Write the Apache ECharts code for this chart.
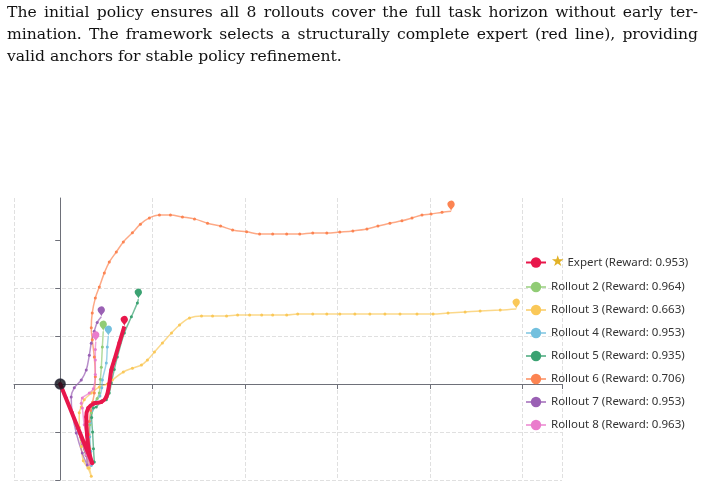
<!DOCTYPE html>
<html>
<head>
<meta charset="utf-8">
<script src="https://cdn.jsdelivr.net/npm/echarts@6/dist/echarts.min.js"></script>
<style>
  html, body { margin: 0; padding: 0; background: #fff; }
  #chart { position: absolute; left: 0; top: 0; width: 704px; height: 490px; }
  #caption {
    position: absolute; left: 7px; top: 1px; width: 691px;
    font-family: "DejaVu Serif", serif;
    font-size: 15.6px; line-height: 22px; color: #111; z-index: 2;
  }
  #caption .j { display: block; text-align: justify; text-align-last: justify; }
  #caption .l { display: block; text-align: left; }
</style>
</head>
<body>
<div id="chart"></div>
<div id="caption">
  <span class="j">The initial policy ensures all 8 rollouts cover the full task horizon without early ter-</span>
  <span class="j">mination. The framework selects a structurally complete expert (red line), providing</span>
  <span class="l">valid anchors for stable policy refinement.</span>
</div>
<script>
// names and rewards shown in the legend
var seriesNames = ["Expert", "Rollout 2", "Rollout 3", "Rollout 4", "Rollout 5", "Rollout 6", "Rollout 7", "Rollout 8"];
var rewards = [0.953, 0.964, 0.663, 0.953, 0.935, 0.706, 0.953, 0.963];

// shared start of every trajectory
var startPoint = [0, 0];
var descent = [[0, 0], [0.065, -0.29], [0.13, -0.6], [0.184, -0.92], [0.239, -1.23], [0.282, -1.48]];

var expert = [[0, 0], [0.347, -1.65], [0.315, -1.44], [0.29, -1.05], [0.282, -0.69], [0.304, -0.5], [0.369, -0.4],
  [0.445, -0.375], [0.499, -0.27], [0.531, 0], [0.553, 0.29], [0.586, 0.5], [0.64, 0.854], [0.694, 1.2]];

var rollout2 = [[0.336, -1.67], [0.325, -1.4], [0.315, -1.1], [0.32, -0.85], [0.336, -0.6], [0.36, -0.42],
  [0.4, -0.3], [0.423, -0.19], [0.435, 0.1], [0.445, 0.35], [0.456, 0.77], [0.466, 1.1]];

var rollout3 = [[0.315, -1.75], [0.336, -1.92], [0.3, -1.75], [0.25, -1.6], [0.228, -1.3], [0.206, -0.9], [0.206, -0.6],
  [0.228, -0.48], [0.26, -0.33], [0.336, -0.19], [0.423, -0.06], [0.51, 0], [0.564, 0.083], [0.683, 0.25],
  [0.781, 0.33], [0.879, 0.396], [0.944, 0.5], [1.02, 0.667], [1.106, 0.854], [1.204, 1.0625], [1.291, 1.23],
  [1.399, 1.375], [1.529, 1.417], [1.649, 1.417], [1.8, 1.417], [1.92, 1.4375], [2.05, 1.4375], [2.18, 1.4375],
  [2.299, 1.4375], [2.451, 1.4375], [2.57, 1.458], [2.733, 1.458], [2.885, 1.458], [3.026, 1.458], [3.189, 1.458],
  [3.351, 1.458], [3.514, 1.458], [3.677, 1.458], [3.861, 1.458], [4.035, 1.458], [4.197, 1.479], [4.382, 1.5],
  [4.544, 1.52], [4.761, 1.54], [4.935, 1.5625]];

var rollout4 = [[0.336, -1.7], [0.33, -1.4], [0.32, -1.1], [0.325, -0.8], [0.345, -0.55], [0.38, -0.38],
  [0.43, -0.25], [0.45, -0.08], [0.456, 0.083], [0.499, 0.44], [0.51, 0.77], [0.521, 1.0]];

var rollout5 = [[0.369, -1.625], [0.36, -1.35], [0.35, -1.0], [0.34, -0.7], [0.36, -0.5], [0.39, -0.48],
  [0.45, -0.35], [0.499, -0.33], [0.531, -0.19], [0.553, 0.02], [0.585, 0.3], [0.618, 0.56], [0.694, 1.06],
  [0.77, 1.4], [0.835, 1.69], [0.846, 1.77]];

var rollout6 = [[0.33, -1.65], [0.32, -1.35], [0.31, -1.05], [0.315, -0.78], [0.33, -0.55], [0.35, -0.38],
  [0.369, -0.19], [0.38, 0.15], [0.369, 0.56], [0.347, 0.92], [0.336, 1.17], [0.347, 1.48], [0.38, 1.79],
  [0.423, 2.02], [0.477, 2.31], [0.531, 2.54], [0.607, 2.75], [0.683, 2.96], [0.781, 3.15], [0.868, 3.33],
  [0.965, 3.46], [1.074, 3.52], [1.193, 3.52], [1.323, 3.48], [1.453, 3.44], [1.594, 3.35], [1.735, 3.29],
  [1.866, 3.21], [2.017, 3.17], [2.158, 3.125], [2.299, 3.125], [2.451, 3.125], [2.592, 3.125], [2.733, 3.146],
  [2.885, 3.146], [3.026, 3.167], [3.167, 3.19], [3.319, 3.23], [3.438, 3.29], [3.568, 3.35], [3.698, 3.4],
  [3.807, 3.46], [3.915, 3.52], [4.013, 3.54], [4.132, 3.58], [4.23, 3.6]];

var rollout7 = [[0.293, -1.69], [0.239, -1.44], [0.174, -1.02], [0.13, -0.6], [0.119, -0.27], [0.152, -0.08],
  [0.228, 0.083], [0.282, 0.29], [0.315, 0.6], [0.336, 0.85], [0.369, 1.1], [0.4, 1.28], [0.445, 1.4]];

var rollout8 = [[0.32, -1.67], [0.31, -1.4], [0.29, -1.1], [0.26, -0.85], [0.24, -0.5], [0.228, -0.4],
  [0.239, -0.29], [0.315, -0.19], [0.358, -0.1], [0.38, 0.2], [0.38, 0.5], [0.38, 0.72], [0.385, 0.88]];

// y-axis tick values (no tick at the top edge)
var yTicks = [-2, -1, 0, 1, 2, 3];

var colors = ["#e8174b", "#91cc75", "#fac858", "#73c0de", "#3ba272", "#fc8452", "#9a60b4", "#ea7ccc"];

var chart = echarts.init(document.getElementById("chart"));

function label(i) {
  return seriesNames[i] + " (Reward: " + rewards[i].toFixed(3) + ")";
}

function withPin(points) {
  return points.map(function (p, k) {
    if (k === points.length - 1) {
      return { value: p, symbol: "pin", symbolSize: 12 };
    }
    return p;
  });
}

var rollouts = [rollout2, rollout3, rollout4, rollout5, rollout6, rollout7, rollout8];
var series = [];

rollouts.forEach(function (pts, k) {
  var i = k + 1;
  series.push({
    name: label(i),
    type: "line",
    smooth: 0.35,
    data: withPin(descent.concat(pts)),
    symbol: "circle",
    symbolSize: 3,
    itemStyle: { color: colors[i] },
    lineStyle: { width: 1.5, opacity: 0.7 },
    z: 2
  });
});

series.push({
  name: label(0),
  type: "line",
  smooth: 0.35,
  data: withPin(expert),
  symbol: "circle",
  symbolSize: 4,
  itemStyle: { color: colors[0] },
  lineStyle: { width: 4 },
  z: 5
});

series.push({
  name: "start",
  type: "scatter",
  data: [startPoint],
  symbolSize: 10,
  itemStyle: { color: "#0d0d14", borderColor: "#2a2a3a", borderWidth: 1.5 },
  z: 6
});

var option = {
  animation: false,
  grid: { left: 14, right: 142, top: 198, bottom: 10 },
  xAxis: {
    type: "value",
    min: -0.5,
    max: 5.43,
    axisLabel: { show: false },
    axisLine: { lineStyle: { color: "#6E7079" } },
    splitLine: { lineStyle: { type: "dashed", color: "#e0e0e0" } }
  },
  yAxis: {
    type: "value",
    min: -2,
    max: 3.875,
    axisLabel: { show: false },
    axisLine: { show: true, lineStyle: { color: "#6E7079" } },
    axisTick: { show: true, customValues: yTicks },
    splitLine: { showMaxLine: false, lineStyle: { type: "dashed", color: "#e0e0e0" } }
  },
  legend: {
    orient: "vertical",
    left: 520,
    top: 250,
    itemWidth: 20,
    itemHeight: 13,
    itemGap: 11,
    data: seriesNames.map(function (n, i) { return label(i); }),
    formatter: function (name) {
      return name.indexOf("Expert") === 0 ? "{s|\u2605} " + name : name;
    },
    textStyle: {
      fontFamily: "Noto Sans",
      fontSize: 11.5,
      color: "#333",
      rich: { s: { color: "#e2b227", fontSize: 15, fontFamily: "DejaVu Sans" } }
    }
  },
  series: series
};

chart.setOption(option);
</script>
</body>
</html>
